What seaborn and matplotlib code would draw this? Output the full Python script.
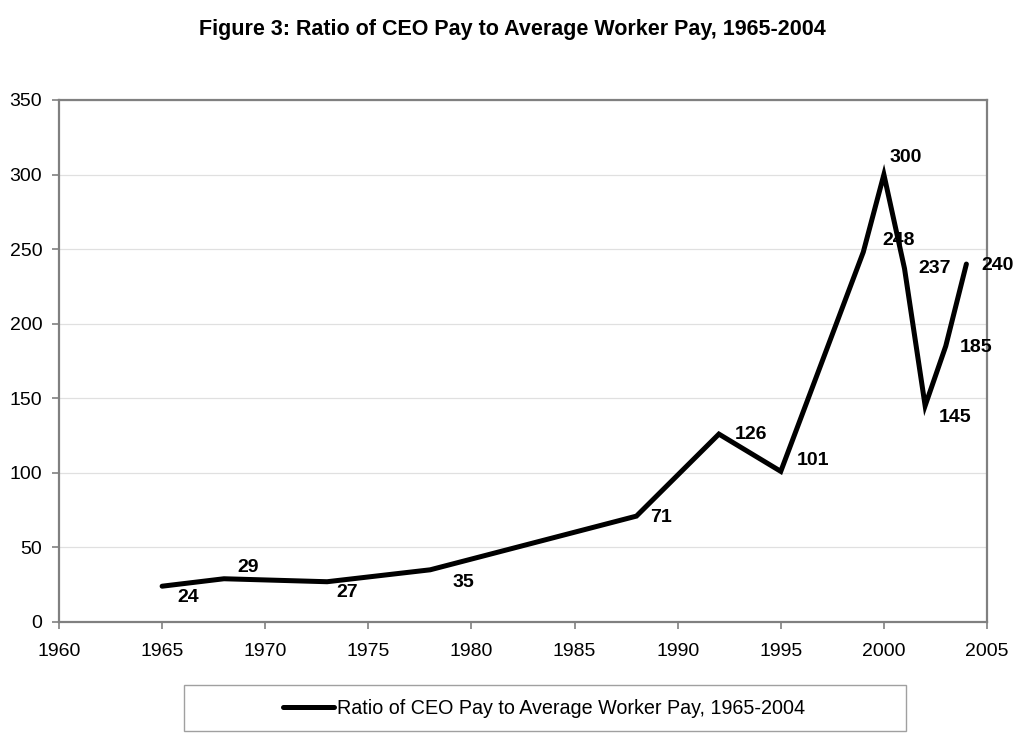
import matplotlib
matplotlib.use("Agg")
import matplotlib.pyplot as plt
import seaborn as sns
import pandas as pd
from matplotlib.patches import Rectangle
from matplotlib.lines import Line2D

years = [1965, 1968, 1973, 1978, 1988, 1992, 1995, 1999, 2000, 2001, 2002, 2003, 2004]
ratio = [24, 29, 27, 35, 71, 126, 101, 248, 300, 237, 145, 185, 240]
series_name = "Ratio of CEO Pay to Average Worker Pay, 1965-2004"
title = "Figure 3: Ratio of CEO Pay to Average Worker Pay, 1965-2004"
x_ticks = [1960, 1965, 1970, 1975, 1980, 1985, 1990, 1995, 2000, 2005]
y_ticks = [0, 50, 100, 150, 200, 250, 300, 350]

# label offsets in pixels (dx, dy), positioning only
label_offsets = [(26, -11), (24, 11), (20, -11), (33, -13), (25, -1), (32, 0), (32, 11),
                 (35, 12), (22, 17), (30, 0), (30, -12), (30, -1), (31, -1)]

sns.set_theme(style="white")
plt.rcParams['font.family'] = ['Liberation Sans', 'DejaVu Sans']
plt.rcParams['text.color'] = 'black'

df = pd.DataFrame({"Year": years, "Ratio": ratio, "Series": series_name})

fig = plt.figure(figsize=(10.24, 7.48), dpi=100)
ax = fig.add_axes([59/1024, 1 - 622/748, (987 - 59)/1024, (622 - 100)/748])

sns.lineplot(data=df, x="Year", y="Ratio", color="black", linewidth=3.6, ax=ax,
             legend=False, solid_joinstyle="miter")

for x, y, (dx, dy) in zip(years, ratio, label_offsets):
    ax.annotate(str(y), (x, y), xytext=(dx, dy), textcoords="offset pixels",
                ha="center", va="center", fontsize=14, fontweight="bold", color="black")

ax.set_xlim(1960, 2005)
ax.set_ylim(0, 350)
ax.set_xticks(x_ticks)
ax.set_yticks(y_ticks)
ax.set_xlabel("")
ax.set_ylabel("")
ax.tick_params(axis="both", labelsize=14, colors="#808080", length=5, width=1.2,
               direction="out", labelcolor="black", bottom=True, left=True)
ax.tick_params(axis="x", pad=10)
ax.tick_params(axis="y", pad=7)
ax.grid(axis="y", color="#e0e0e0", linewidth=0.9)
ax.grid(axis="x", visible=False)
for s in ax.spines.values():
    s.set_color("#808080")
    s.set_linewidth(1.6)
    s.set_visible(True)

fig.text(0.5, 1 - 29/748, title, ha="center", va="center", fontsize=15.5,
         fontweight="bold", color="black")

# legend box
fig.add_artist(Rectangle((184/1024, 1 - 731/748), (906 - 184)/1024, (731 - 685)/748,
                         transform=fig.transFigure, facecolor="white",
                         edgecolor="#a0a0a0", linewidth=1.0))
h = Line2D([], [], color="black", linewidth=3.6)
leg = fig.legend([h], [series_name], loc="center", bbox_to_anchor=(544/1024, 1 - 708/748),
                 frameon=False, handlelength=2.55, handletextpad=0.15,
                 prop={"size": 14.2})
for t in leg.get_texts():
    t.set_color("black")

fig.savefig("out.png", dpi=100)
